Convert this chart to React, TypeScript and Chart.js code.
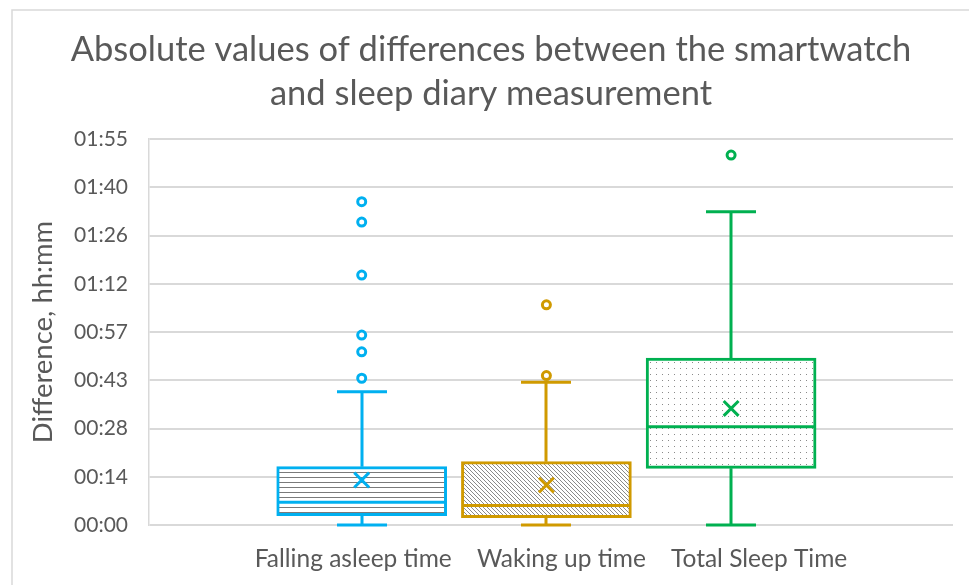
import React, { useEffect, useRef } from "react";
import { Chart, registerables } from "chart.js";

Chart.register(...registerables);

// ---- data (minutes) ----
const categories = ["Falling asleep time", "Waking up time", "Total Sleep Time"];
const positions = [1, 2, 3];
const minValues = [0, 0, 0];
const q1Values = [2.8, 2.2, 16.9];
const medianValues = [6.8, 5.8, 29.3];
const q3Values = [17.4, 18.9, 49.8];
const maxValues = [39.8, 42.6, 93.5];
const meanValues = [13.4, 11.9, 34.8];
const fallingOutliers = [96.5, 90.4, 74.6, 56.7, 51.7, 43.8];
const wakingOutliers = [65.7, 44.6];
const totalOutliers = [110.4];
const yTicks = [0, 14.4, 28.8, 43.2, 57.6, 72, 86.4, 100.8, 115.2];
const titleLines = [
  "Absolute values of differences between the smartwatch",
  "and sleep diary measurement",
];
const yAxisTitle = "Difference, hh:mm";

const X_MIN = -0.1516;
const X_MAX = 4.2014;

const colors = ["#00B0F0", "#D09A00", "#00B050"];
const FONT = "Lato";

function fmt(v: number) {
  const h = Math.floor(v / 60 + 1e-9);
  const m = Math.floor(v - h * 60 + 1e-6);
  return String(h).padStart(2, "0") + ":" + String(m).padStart(2, "0");
}

function makePattern(kind: string): CanvasPattern | string {
  const c = document.createElement("canvas");
  const ctx = c.getContext("2d")!;
  if (kind === "h") {
    c.width = 8; c.height = 5;
    ctx.fillStyle = "#fff"; ctx.fillRect(0, 0, 8, 5);
    ctx.fillStyle = "#7a7a7a"; ctx.fillRect(0, 2, 8, 1);
  } else if (kind === "d") {
    c.width = 4; c.height = 4;
    ctx.fillStyle = "#fff"; ctx.fillRect(0, 0, 4, 4);
    ctx.fillStyle = "#8a8a8a";
    for (let i = 0; i < 4; i++) ctx.fillRect(i, i, 1, 1);
  } else {
    c.width = 6; c.height = 6;
    ctx.fillStyle = "#fff"; ctx.fillRect(0, 0, 6, 6);
    ctx.fillStyle = "#8a8a8a"; ctx.fillRect(2, 2, 1, 1);
  }
  return ctx.createPattern(c, "repeat") || "#fff";
}

const boxPlugin = {
  id: "boxExtras",
  beforeDraw(chart: any) {
    const ctx = chart.ctx;
    ctx.save();
    ctx.strokeStyle = "#d9d9d9";
    ctx.lineWidth = 1.5;
    ctx.beginPath();
    ctx.moveTo(12, 585);
    ctx.lineTo(12, 10);
    ctx.lineTo(969, 10);
    ctx.stroke();
    // title
    ctx.fillStyle = "#595959";
    ctx.font = `normal 34.5px ${FONT}`;
    ctx.textAlign = "center";
    ctx.textBaseline = "alphabetic";
    ctx.fillText(titleLines[0], 491, 61);
    ctx.fillText(titleLines[1], 491, 105);
    ctx.restore();
  },
  afterDatasetDraw(chart: any, args: any) {
    if (args.index !== 0) return;
    const ctx = chart.ctx;
    const xs = chart.scales.x;
    const ys = chart.scales.y;
    ctx.save();
    positions.forEach((p, i) => {
      const cx = Math.round(xs.getPixelForValue(p));
      const half = 85;
      ctx.strokeStyle = colors[i];
      ctx.lineWidth = 3;
      ctx.lineCap = "butt";
      const yMin = ys.getPixelForValue(minValues[i]);
      const yQ1 = ys.getPixelForValue(q1Values[i]);
      const yQ3 = ys.getPixelForValue(q3Values[i]);
      const yMax = ys.getPixelForValue(maxValues[i]);
      ctx.beginPath();
      ctx.moveTo(cx, yQ3); ctx.lineTo(cx, yMax);
      ctx.moveTo(cx, yQ1); ctx.lineTo(cx, yMin);
      ctx.moveTo(cx - 25, yMax); ctx.lineTo(cx + 25, yMax);
      ctx.moveTo(cx - 25, yMin); ctx.lineTo(cx + 25, yMin);
      ctx.stroke();
      const yMed = ys.getPixelForValue(medianValues[i]);
      ctx.beginPath();
      ctx.moveTo(cx - half + 1, yMed); ctx.lineTo(cx + half - 1, yMed);
      ctx.stroke();
    });
    ctx.restore();
  },
};

export default function App() {
  const ref = useRef<HTMLCanvasElement>(null);
  useEffect(() => {
    document.body.style.margin = "0";
    const patterns = [makePattern("h"), makePattern("d"), makePattern("p")];
    const outlierData: any[] = [];
    const outlierColors: string[] = [];
    [fallingOutliers, wakingOutliers, totalOutliers].forEach((arr, i) => {
      arr.forEach((v) => {
        outlierData.push({ x: positions[i], y: v });
        outlierColors.push(colors[i]);
      });
    });
    const chart = new Chart(ref.current!, {
      type: "bar",
      data: {
        datasets: [
          {
            type: "bar",
            data: positions.map((p, i) => ({ x: p, y: [q1Values[i], q3Values[i]] })) as any,
            backgroundColor: patterns as any,
            borderColor: colors,
            borderWidth: 3,
            borderSkipped: false,
            barThickness: 170,
            order: 3,
          } as any,
          {
            type: "scatter",
            data: positions.map((p, i) => ({ x: p, y: meanValues[i] })),
            pointStyle: "crossRot",
            pointRadius: 10.5,
            pointBorderWidth: 3,
            borderColor: colors,
            pointBorderColor: colors,
            order: 2,
          } as any,
          {
            type: "scatter",
            data: outlierData,
            pointStyle: "circle",
            pointRadius: 4,
            pointBorderWidth: 3,
            pointBorderColor: outlierColors,
            pointBackgroundColor: "#ffffff",
            order: 1,
          } as any,
        ],
      },
      options: {
        animation: false,
        responsive: true,
        maintainAspectRatio: false,
        layout: { padding: { left: 0, right: 16, top: 139, bottom: 0 } },
        plugins: {
          legend: { display: false },
          tooltip: { enabled: false },
          title: { display: false },
        },
        scales: {
          x: {
            type: "linear",
            offset: false,
            min: X_MIN,
            max: X_MAX,
            grid: { display: false },
            border: { display: false },
            afterBuildTicks: (s: any) => {
              s.ticks = [{ value: (X_MIN + X_MAX) / 2 }];
            },
            afterFit: (s: any) => {
              s.height = 60;
            },
            ticks: {
              color: "#595959",
              font: { family: FONT, size: 24.5 },
              padding: 11,
              maxRotation: 0,
              autoSkip: false,
              callback: () => categories.join("    "),
            },
          },
          y: {
            min: 0,
            max: 115.2,
            afterBuildTicks: (s: any) => {
              s.ticks = yTicks.map((v) => ({ value: v }));
            },
            afterFit: (s: any) => {
              s.width = 149;
            },
            grid: { color: "#d9d9d9", lineWidth: 2, drawTicks: false },
            border: { display: true, color: "#d9d9d9", width: 1.5 },
            ticks: {
              color: "#595959",
              font: { family: FONT, size: 21 },
              padding: 21,
              callback: (v: any) => fmt(Number(v)),
            },
            title: {
              display: true,
              text: yAxisTitle,
              color: "#595959",
              font: { family: FONT, size: 27.5 },
              padding: { top: 27, bottom: 0 },
            },
          },
        },
      },
      plugins: [boxPlugin],
    });
    return () => chart.destroy();
  }, []);
  return (
    <div style={{ position: "relative", width: 969, height: 585 }}>
      <canvas ref={ref} />
    </div>
  );
}
